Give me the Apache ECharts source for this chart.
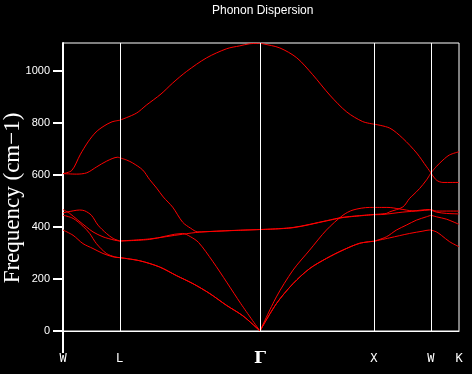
<!DOCTYPE html>
<html><head><meta charset="utf-8">
<script src="https://cdn.jsdelivr.net/npm/echarts@6/dist/echarts.min.js"></script>
<style>html,body{margin:0;padding:0;background:#000;}#c{width:472px;height:374px;}</style>
</head><body><div id="c"></div>
<script>
// High-symmetry k-path positions and labels
const kPoints = [0, 0.497, 1.728, 2.728, 3.228, 3.474];
const kLabels = ['W', 'L', 'Γ', 'X', 'W', 'K'];
const yTicks = [0, 200, 400, 600, 800, 1000];

// Phonon branches: [k, frequency (cm-1)]
const branch1 = [[0,388],[0.088,368],[0.175,336],[0.263,317],[0.351,298],[0.439,285],[0.497,282],
  [0.673,270],[0.848,246],[0.995,213],[1.14,182],[1.287,144],[1.433,99],[1.579,58],[1.728,0],
  [1.872,105],[2.018,182],[2.164,240],[2.311,279],[2.456,311],[2.602,337],[2.728,345],
  [2.866,358],[3.041,375],[3.158,384],[3.211,388],[3.228,388],
  [3.276,381],[3.319,368],[3.392,343],[3.474,324]];
const branch2 = [[0,445],[0.088,433],[0.175,403],[0.234,375],[0.293,336],[0.381,298],[0.454,285],[0.497,282],
  [0.673,270],[0.848,246],[0.995,213],[1.14,182],[1.287,144],[1.433,99],[1.579,58],[1.728,0],
  [1.872,105],[2.018,182],[2.164,240],[2.311,279],[2.456,311],[2.602,337],[2.728,345],
  [2.837,362],[2.925,388],[3.012,407],[3.1,426],[3.188,439],[3.228,445],
  [3.276,439],[3.363,430],[3.474,410]];
const branch3 = [[0,467],[0.059,452],[0.131,426],[0.205,400],[0.263,381],[0.351,362],[0.454,349],[0.497,346],
  [0.76,352],[1.05,375],[1.12,362],[1.19,340],[1.313,268],[1.44,185],[1.56,105],[1.728,0],
  [1.872,131],[2.018,234],[2.164,311],[2.311,388],[2.456,445],[2.544,465],[2.69,475],[2.728,475],
  [2.851,475],[2.954,469],[3.07,462],[3.211,467],[3.228,467],
  [3.276,461],[3.474,461]];
const branch4 = [[0,454],[0.044,458],[0.146,465],[0.19,462],[0.249,445],[0.307,407],[0.381,375],[0.439,356],[0.497,346],
  [0.76,354],[1.05,372],[1.199,380],[1.489,386],[1.728,390],
  [2.018,397],[2.311,423],[2.456,436],[2.728,447],
  [2.807,448],[2.982,457],[3.129,462],[3.211,465],[3.228,465],
  [3.276,457],[3.363,452],[3.474,450]];
const branch5 = [[0,605],[0.12,603],[0.208,608],[0.296,631],[0.383,653],[0.48,668],[0.497,666],
  [0.559,657],[0.611,646],[0.699,619],[0.76,582],[0.822,549],[0.88,515],[0.962,476],[1.05,418],[1.12,395],[1.182,381],
  [1.313,383],[1.462,386],[1.728,390],
  [2.018,398],[2.311,424],[2.456,437],[2.728,448],
  [2.837,452],[2.866,458],[2.982,477],[3.041,510],[3.07,522],[3.129,548],[3.188,580],[3.228,608],
  [3.276,580],[3.333,571],[3.474,571]];
const branch6 = [[0,605],[0.077,617],[0.15,677],[0.22,727],[0.29,765],[0.36,788],[0.43,804],[0.497,810],
  [0.643,837],[0.731,868],[0.86,911],[0.962,953],[1.085,998],[1.26,1050],[1.436,1085],[1.55,1096],[1.637,1104],[1.728,1106],
  [1.753,1104],[1.902,1088],[2.051,1050],[2.191,985],[2.34,907],[2.489,842],[2.629,805],[2.728,795],
  [2.866,780],[2.98,741],[3.103,684],[3.19,631],[3.228,608],
  [3.275,632],[3.333,657],[3.392,677],[3.474,689]];

const branches = [branch1, branch2, branch3, branch4, branch5, branch6];

const chart = echarts.init(document.getElementById('c'), null, {renderer: 'canvas'});

const series = [{
  type: 'line', data: [], z: 1, silent: true,
  markLine: {
    silent: true, symbol: 'none', animation: false,
    label: {show: false},
    lineStyle: {color: '#ffffff', width: 1, type: 'solid'},
    emphasis: {disabled: true},
    data: kPoints.slice(1, kPoints.length - 1).map(k => ({xAxis: k}))
  }
}];

// each branch drawn segment by segment between high-symmetry points
branches.forEach((b, i) => {
  for (let s = 0; s < kPoints.length - 1; s++) {
    const seg = b.filter(p => p[0] >= kPoints[s] - 1e-9 && p[0] <= kPoints[s + 1] + 1e-9);
    series.push({
      name: 'branch' + (i + 1),
      type: 'line', data: seg, z: 3,
      showSymbol: false, symbol: 'none', smooth: 0.3,
      lineStyle: {color: '#ff0000', width: 1},
      silent: true, animation: false
    });
  }
});

chart.setOption({
  backgroundColor: '#000000',
  animation: false,
  title: {
    text: 'Phonon Dispersion', left: 212, top: 5, padding: 0,
    textStyle: {color: '#ffffff', fontSize: 12, fontWeight: 'normal', fontFamily: 'Liberation Sans'}
  },
  grid: {left: 63, right: 13, top: 43, bottom: 43, show: true, borderColor: '#ffffff', borderWidth: 1, backgroundColor: 'transparent'},
  xAxis: {
    type: 'value', min: kPoints[0], max: kPoints[kPoints.length - 1],
    axisLine: {show: true, lineStyle: {color: '#ffffff', width: 1}},
    axisTick: {show: true, customValues: [kPoints[0]], length: 22, inside: false, lineStyle: {color: '#ffffff', width: 2}},
    splitLine: {show: false},
    axisLabel: {
      customValues: kPoints, showMinLabel: true, showMaxLabel: true, hideOverlap: false,
      margin: 28, verticalAlign: 'middle',
      color: '#ffffff', fontSize: 12, fontFamily: 'DejaVu Sans Mono',
      formatter: function (v) {
        const i = kPoints.findIndex(p => Math.abs(p - v) < 1e-6);
        const t = i >= 0 ? kLabels[i] : '';
        return t === 'Γ' ? '{g|' + t + '}' : t;
      },
      rich: {g: {color: '#ffffff', fontSize: 17, fontWeight: 'bold', fontFamily: 'DejaVu Serif'}}
    }
  },
  yAxis: {
    type: 'value', min: 0, max: 1107,
    axisLine: {show: true, lineStyle: {color: '#ffffff', width: 2}},
    axisTick: {show: true, customValues: yTicks, length: 10, inside: false, lineStyle: {color: '#ffffff', width: 2}},
    splitLine: {show: false},
    axisLabel: {customValues: yTicks, margin: 13, color: '#ffffff', fontSize: 11, fontFamily: 'Liberation Sans',
      formatter: v => String(v)}
  },
  graphic: [{
    type: 'text', x: 13, y: 198, rotation: Math.PI / 2, silent: true,
    style: {text: 'Frequency (cm−1)', fill: '#ffffff', font: '23px "Liberation Serif"', textAlign: 'center', textVerticalAlign: 'middle'}
  }],
  series: series
});
</script>
</body></html>
